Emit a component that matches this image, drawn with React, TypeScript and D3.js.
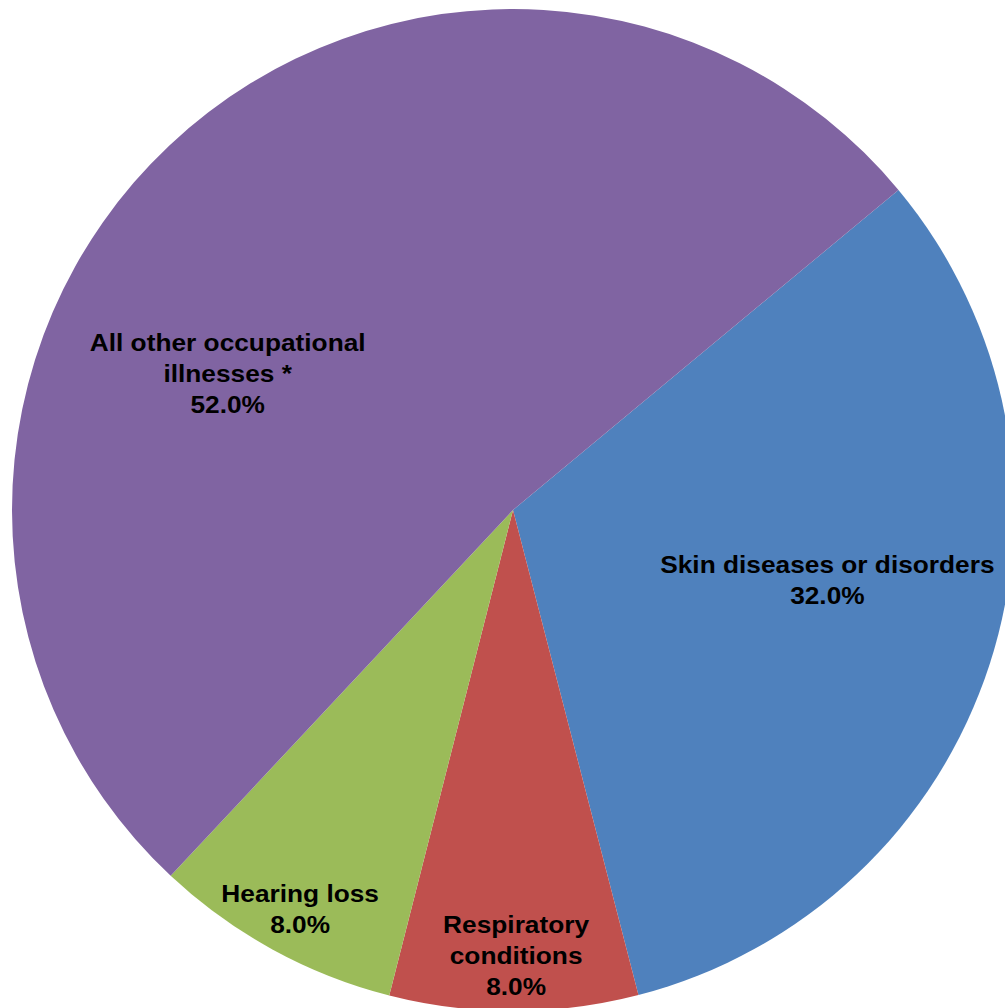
import React from "react";
import * as d3 from "d3";

const categories = [
  "Skin diseases or disorders",
  "Respiratory conditions",
  "Hearing loss",
  "All other occupational illnesses *",
];
const values = [32.0, 8.0, 8.0, 52.0];
const labelLines = [
  ["Skin diseases or disorders"],
  ["Respiratory", "conditions"],
  ["Hearing loss"],
  ["All other occupational", "illnesses *"],
];
const colors = ["#4F81BD", "#C0504D", "#9BBB59", "#8064A2"];

// label placement (layout, not data): radius fraction and angle nudge in degrees
const labelRadiusFrac = [0.643, 0.89, 0.902, 0.631];
const labelAngleNudge = [-5.3, -0.3, -0.6, -21.2];

const W = 1005;
const H = 1008;
const CX = 513;
const CY = 510;
const R = 501;
const START = (50.3 * Math.PI) / 180;
const FONT = 24;
const LINE = 31;

export default function App() {
  const pie = d3
    .pie<number>()
    .sort(null)
    .value((d) => d)
    .startAngle(START)
    .endAngle(START + 2 * Math.PI);
  const arcs = pie(values);
  const arc = d3.arc<d3.PieArcDatum<number>>().innerRadius(0).outerRadius(R);

  return (
    <svg
      width={W}
      height={H}
      style={{ position: "absolute", left: 0, top: 0, background: "#fff" }}
    >
      <g transform={`translate(${CX},${CY})`}>
        {arcs.map((a, i) => (
          <path key={categories[i]} d={arc(a) || ""} fill={colors[i]} />
        ))}
        {arcs.map((a, i) => {
          const mid =
            (a.startAngle + a.endAngle) / 2 + (labelAngleNudge[i] * Math.PI) / 180;
          const lr = R * labelRadiusFrac[i];
          const x = lr * Math.sin(mid);
          const y = -lr * Math.cos(mid);
          const lines = [...labelLines[i], `${values[i].toFixed(1)}%`];
          const n = lines.length;
          return (
            <g key={"l" + i} transform={`translate(${x},${y}) scale(1.095,1)`}>
              {lines.map((t, j) => (
                <text
                  key={j}
                  x={0}
                  y={(j - (n - 1) / 2) * LINE + 8.5}
                  textAnchor="middle"
                  fontFamily="Arial, 'Liberation Sans', sans-serif"
                  fontWeight="bold"
                  fontSize={FONT}
                  fill="#000"
                >
                  {t}
                </text>
              ))}
            </g>
          );
        })}
      </g>
    </svg>
  );
}
